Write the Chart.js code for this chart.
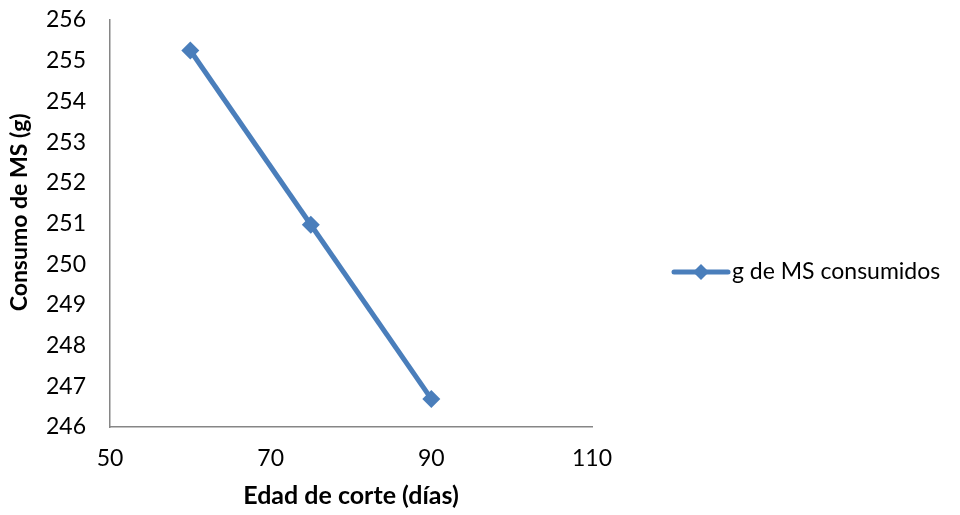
<!DOCTYPE html>
<html>
<head>
<meta charset="utf-8">
<script src="https://cdn.jsdelivr.net/npm/chart.js"></script>
<style>
  html, body { margin: 0; padding: 0; background: #fff; }
  #wrap { width: 960px; height: 515px; }
</style>
</head>
<body>
<div id="wrap"><canvas id="myChart" width="960" height="515"></canvas></div>
<script>
// DATA
const edad = [60, 75, 90];
const consumo = [255.25, 250.97, 246.69];
const seriesName = 'g de MS consumidos';
const xTitle = 'Edad de corte (días)';
const yTitle = 'Consumo de MS (g)';

const blue = '#4a7ebb';
const axisGray = '#868686';
const font = 'Lato, "Open Sans", sans-serif';

// legend drawn by hand, to the right of the plot (Excel style)
const sideLegend = {
  id: 'sideLegend',
  afterDraw(chart) {
    const ctx = chart.ctx;
    const ds = chart.data.datasets[0];
    const x0 = chart.chartArea.right + 82;
    const y0 = 272;
    ctx.save();
    ctx.strokeStyle = ds.borderColor;
    ctx.lineWidth = 5;
    ctx.lineCap = 'round';
    ctx.beginPath();
    ctx.moveTo(x0, y0);
    ctx.lineTo(x0 + 54, y0);
    ctx.stroke();
    ctx.fillStyle = ds.backgroundColor;
    ctx.beginPath();
    ctx.moveTo(x0 + 27, y0 - 8);
    ctx.lineTo(x0 + 35, y0);
    ctx.lineTo(x0 + 27, y0 + 8);
    ctx.lineTo(x0 + 19, y0);
    ctx.closePath();
    ctx.fill();
    ctx.fillStyle = '#000';
    ctx.font = '23px ' + font;
    ctx.textBaseline = 'middle';
    ctx.fillText(ds.label, x0 + 58, y0);
    ctx.restore();
  }
};

const data = {
  datasets: [{
    label: seriesName,
    data: edad.map((x, i) => ({ x: x, y: consumo[i] })),
    borderColor: blue,
    backgroundColor: blue,
    borderWidth: 5,
    pointStyle: 'rectRot',
    pointRadius: 9,
    pointHoverRadius: 9,
    pointBorderWidth: 0,
    tension: 0
  }]
};

const config = {
  type: 'line',
  data: data,
  options: {
    responsive: false,
    animation: false,
    layout: { padding: { left: 0, top: 20, right: 368, bottom: 0 } },
    plugins: {
      tooltip: { enabled: false },
      legend: { display: false }
    },
    scales: {
      x: {
        type: 'linear',
        min: 50,
        max: 110,
        afterFit: (s) => { s.height = 88; s.paddingLeft = 0; s.paddingRight = 0; },
        ticks: { stepSize: 20, color: '#000', padding: 18, font: { family: font, size: 23 } },
        grid: { display: false, drawTicks: false },
        border: { color: axisGray, width: 1.5 },
        title: { display: true, text: xTitle, color: '#000', font: { family: font, size: 25, weight: 'bold' }, padding: { top: 0, bottom: 4 } }
      },
      y: {
        min: 246,
        max: 256,
        afterFit: (s) => { s.width = 110; s.paddingTop = 0; s.paddingBottom = 0; },
        ticks: { stepSize: 1, color: '#000', padding: 24, font: { family: font, size: 23 } },
        grid: { display: false, drawTicks: false },
        border: { color: axisGray, width: 1.5 },
        title: { display: true, text: '\u00a0\u00a0\u00a0\u00a0' + yTitle, color: '#000', font: { family: font, size: 23, weight: 'bold' }, padding: { top: 6, bottom: 0 } }
      }
    }
  },
  plugins: [sideLegend]
};

var myChart = new Chart(document.getElementById('myChart'), config);
</script>
</body>
</html>
